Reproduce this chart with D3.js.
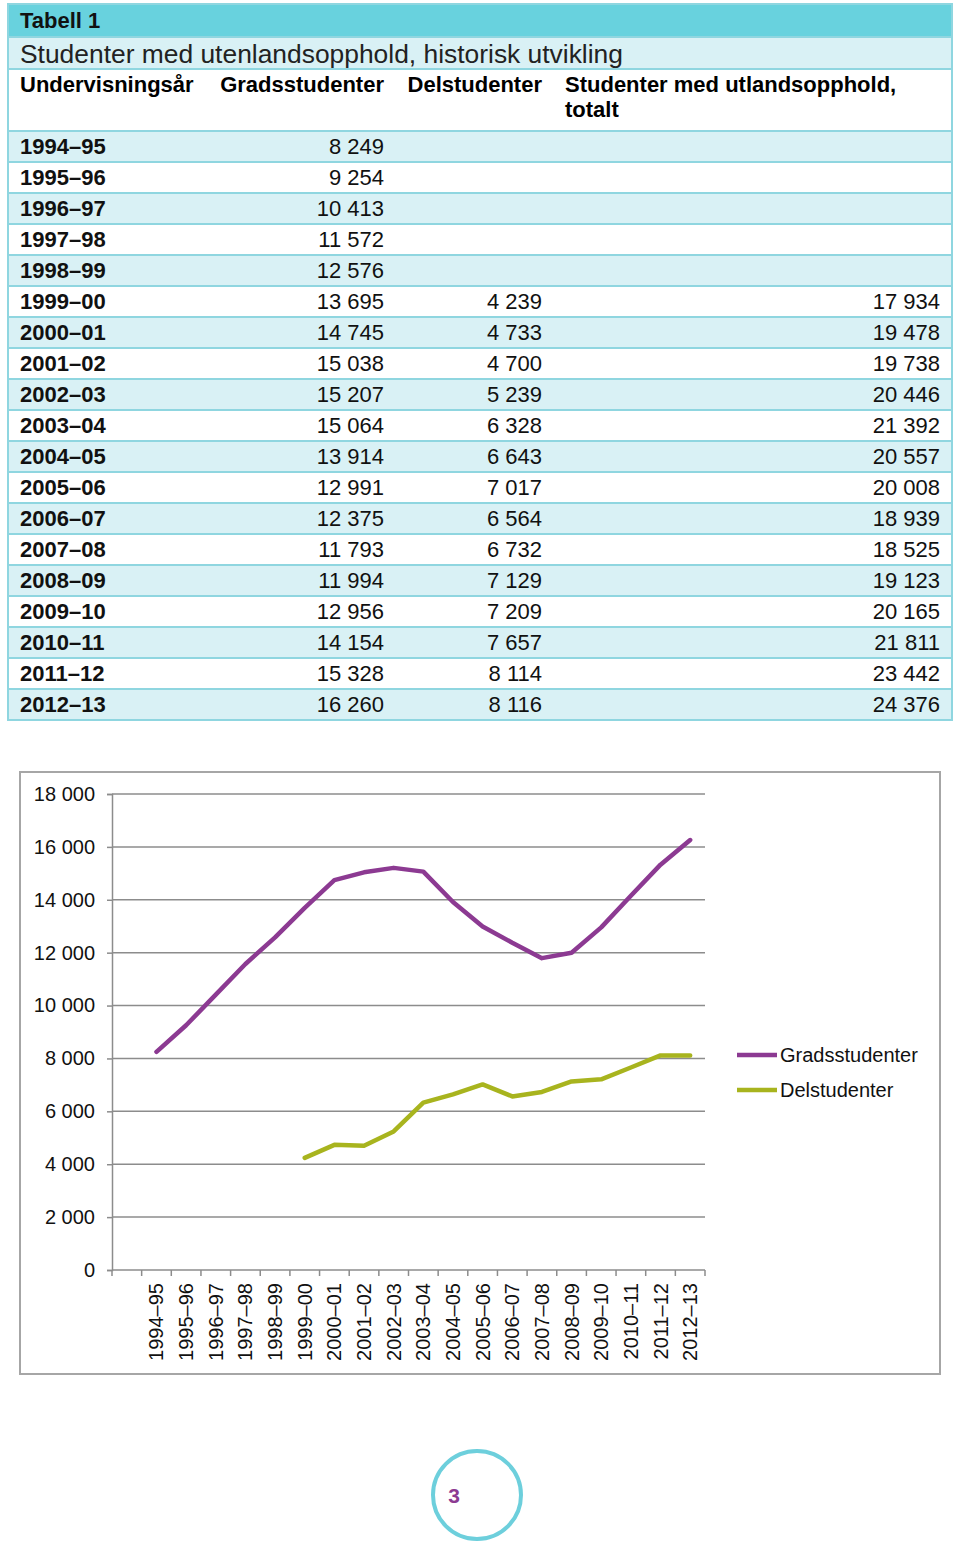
<!DOCTYPE html>
<html>
<head>
<meta charset="utf-8">
<script src="https://cdn.jsdelivr.net/npm/d3@7"></script>
<style>
html,body{margin:0;padding:0;background:#fff;}
svg{display:block;font-family:"Liberation Sans",Arial,Helvetica,sans-serif;}
</style>
</head>
<body>
<svg id="c" width="960" height="1545"></svg>
<script>
// ---- data ----
const years = ["1994–95","1995–96","1996–97","1997–98","1998–99","1999–00","2000–01","2001–02","2002–03","2003–04","2004–05","2005–06","2006–07","2007–08","2008–09","2009–10","2010–11","2011–12","2012–13"];
const gradsstudenter = [8249,9254,10413,11572,12576,13695,14745,15038,15207,15064,13914,12991,12375,11793,11994,12956,14154,15328,16260];
const delstudenter = [null,null,null,null,null,4239,4733,4700,5239,6328,6643,7017,6564,6732,7129,7209,7657,8114,8116];
const totalt = [null,null,null,null,null,17934,19478,19738,20446,21392,20557,20008,18939,18525,19123,20165,21811,23442,24376];
const yTicks = [0,2000,4000,6000,8000,10000,12000,14000,16000,18000];
const tableTitle = "Tabell 1";
const tableSubtitle = "Studenter med utenlandsopphold, historisk utvikling";
const headers = ["Undervisningsår","Gradsstudenter","Delstudenter","Studenter med utlandsopphold,","totalt"];
const seriesNames = ["Gradsstudenter","Delstudenter"];
const pageNumber = "3";

const fmt = v => v == null ? "" : d3.format(",")(v).replace(/,/g, " ");
const svg = d3.select("#c");

// ---- table ----
const T = {x0: 8, x1: 952, top: 4, titleH: 33, subH: 32, headH: 62, rowH: 31};
const lineCol = "#8fd6e0", light = "#d9f1f5", dark = "#68d2de";
const tg = svg.append("g");
tg.append("rect").attr("x", T.x0).attr("y", T.top).attr("width", T.x1 - T.x0).attr("height", T.titleH).attr("fill", dark);
tg.append("rect").attr("x", T.x0).attr("y", T.top + T.titleH).attr("width", T.x1 - T.x0).attr("height", T.subH).attr("fill", light);
const rowsTop = T.top + T.titleH + T.subH + T.headH;
const rowY = d3.scaleBand().domain(years).range([rowsTop, rowsTop + years.length * T.rowH]);
tg.selectAll("rect.row").data(years).join("rect").attr("class", "row")
  .attr("x", T.x0).attr("y", d => rowY(d)).attr("width", T.x1 - T.x0).attr("height", rowY.bandwidth())
  .attr("fill", (d, i) => i % 2 === 0 ? light : "#fff");
// horizontal lines
const hLines = [T.top + T.titleH, T.top + T.titleH + T.subH, rowsTop].concat(years.map(d => rowY(d) + rowY.bandwidth()));
tg.selectAll("line.h").data(hLines).join("line").attr("class", "h")
  .attr("x1", T.x0).attr("x2", T.x1).attr("y1", d => d).attr("y2", d => d)
  .attr("stroke", lineCol).attr("stroke-width", 2);
tg.append("rect").attr("x", T.x0).attr("y", T.top).attr("width", T.x1 - T.x0).attr("height", rowsTop + years.length * T.rowH - T.top)
  .attr("fill", "none").attr("stroke", lineCol).attr("stroke-width", 2);

tg.append("text").attr("x", 20).attr("y", 28).attr("font-size", 22).attr("font-weight", "bold").attr("fill", "#111").text(tableTitle);
tg.append("text").attr("x", 20).attr("y", 63).attr("font-size", 26.4).attr("fill", "#222").text(tableSubtitle);
const hy = 92;
tg.append("text").attr("x", 20).attr("y", hy).attr("font-size", 22).attr("font-weight", "bold").text(headers[0]);
tg.append("text").attr("x", 384).attr("y", hy).attr("text-anchor", "end").attr("font-size", 22).attr("font-weight", "bold").text(headers[1]);
tg.append("text").attr("x", 542).attr("y", hy).attr("text-anchor", "end").attr("font-size", 22).attr("font-weight", "bold").text(headers[2]);
tg.append("text").attr("x", 565).attr("y", hy).attr("font-size", 22).attr("font-weight", "bold").text(headers[3]);
tg.append("text").attr("x", 565).attr("y", hy + 25).attr("font-size", 22).attr("font-weight", "bold").text(headers[4]);

const rows = tg.selectAll("g.r").data(years).join("g").attr("class", "r")
  .attr("transform", d => `translate(0,${rowY(d) + rowY.bandwidth() / 2 + 7.5})`);
rows.append("text").attr("x", 20).attr("font-size", 22).attr("font-weight", "bold").attr("fill", "#111").text(d => d);
rows.append("text").attr("x", 384).attr("text-anchor", "end").attr("font-size", 22).attr("fill", "#111").text((d, i) => fmt(gradsstudenter[i]));
rows.append("text").attr("x", 542).attr("text-anchor", "end").attr("font-size", 22).attr("fill", "#111").text((d, i) => fmt(delstudenter[i]));
rows.append("text").attr("x", 940).attr("text-anchor", "end").attr("font-size", 22).attr("fill", "#111").text((d, i) => fmt(totalt[i]));

// ---- chart ----
const cg = svg.append("g");
cg.append("rect").attr("x", 20).attr("y", 772).attr("width", 920).attr("height", 602)
  .attr("fill", "#fff").attr("stroke", "#a6a6a6").attr("stroke-width", 2);

const x = d3.scaleBand().domain(["", ...years]).range([112, 705]).paddingInner(0).paddingOuter(0);
const y = d3.scaleLinear().domain([0, 18000]).range([1270, 794]);
const gridCol = "#8c8c8c";

// gridlines
cg.selectAll("line.grid").data(yTicks.filter(v => v > 0)).join("line").attr("class", "grid")
  .attr("x1", 112).attr("x2", 705).attr("y1", d => y(d)).attr("y2", d => y(d))
  .attr("stroke", gridCol).attr("stroke-width", 1.5);

// y axis
const yAxis = cg.append("g").attr("transform", "translate(112,0)")
  .call(d3.axisLeft(y).tickValues(yTicks).tickSize(5).tickPadding(12).tickFormat(fmt));
yAxis.select(".domain").attr("stroke", gridCol).attr("stroke-width", 1.5);
yAxis.selectAll(".tick line").attr("stroke", gridCol).attr("stroke-width", 1.5);
yAxis.selectAll(".tick text").attr("font-size", 20).attr("fill", "#111").attr("font-family", "Liberation Sans, Arial, sans-serif");

// x axis
const xAxisG = cg.append("g").attr("transform", "translate(0,1270)");
xAxisG.append("line").attr("x1", 112).attr("x2", 705).attr("stroke", gridCol).attr("stroke-width", 1.5);
const bounds = x.domain().map(d => x(d)).concat([705]);
xAxisG.selectAll("line.t").data(bounds).join("line").attr("class", "t")
  .attr("x1", d => d).attr("x2", d => d).attr("y1", 0).attr("y2", 6)
  .attr("stroke", gridCol).attr("stroke-width", 1.5);
xAxisG.selectAll("text").data(years).join("text")
  .attr("transform", d => `translate(${x(d) + x.bandwidth() / 2},13) rotate(-90)`)
  .attr("text-anchor", "end").attr("dy", "0.35em").attr("font-size", 20).attr("fill", "#111").text(d => d);

// lines
const colors = ["#8c3a92", "#a8b41e"];
const series = [gradsstudenter, delstudenter];
const line = d3.line().defined(d => d.v != null).x(d => x(d.k) + x.bandwidth() / 2).y(d => y(d.v));
series.forEach((s, i) => {
  cg.append("path").datum(years.map((k, j) => ({k, v: s[j]})))
    .attr("d", line).attr("fill", "none").attr("stroke", colors[i]).attr("stroke-width", 4.5)
    .attr("stroke-linejoin", "round").attr("stroke-linecap", "round");
});

// legend
const lg = cg.selectAll("g.lg").data(seriesNames).join("g").attr("class", "lg")
  .attr("transform", (d, i) => `translate(737,${1055 + i * 35})`);
lg.append("line").attr("x1", 0).attr("x2", 40).attr("stroke", (d, i) => colors[i]).attr("stroke-width", 4.5);
lg.append("text").attr("x", 43).attr("dy", "0.35em").attr("font-size", 20).attr("fill", "#111").text(d => d);

// page number
svg.append("circle").attr("cx", 477).attr("cy", 1495).attr("r", 44)
  .attr("fill", "none").attr("stroke", "#6dcfdc").attr("stroke-width", 4);
svg.append("text").attr("x", 454).attr("y", 1503).attr("text-anchor", "middle")
  .attr("font-size", 21).attr("font-weight", "bold").attr("fill", "#8c3a92").text(pageNumber);
</script>
</body>
</html>
